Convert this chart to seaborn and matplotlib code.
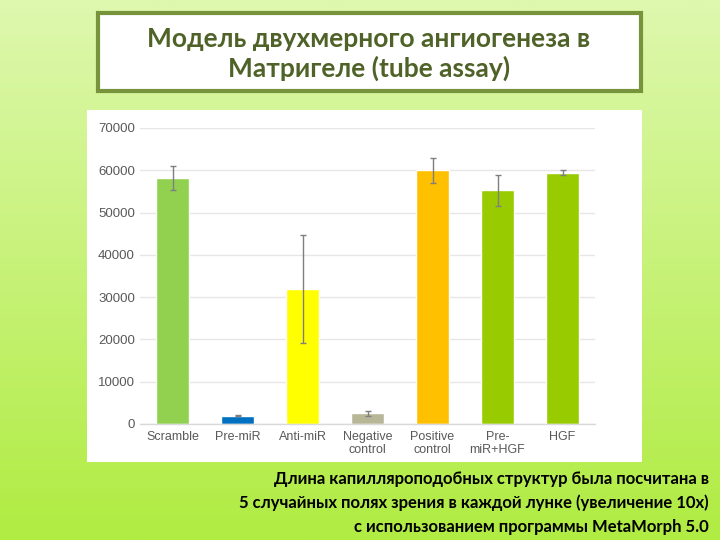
import numpy as np
import pandas as pd
import matplotlib
matplotlib.use("Agg")
import matplotlib.pyplot as plt
from matplotlib.patches import Rectangle
import seaborn as sns

categories = ["Scramble", "Pre-miR", "Anti-miR", "Negative\ncontrol",
              "Positive\ncontrol", "Pre-\nmiR+HGF", "HGF"]
values = [58200, 2000, 32000, 2500, 60000, 55300, 59400]
errors = [2900, 100, 12800, 500, 2900, 3700, 600]
colors = ["#92D050", "#0070C0", "#FFFF00", "#B7B797", "#FFC000", "#99CC00", "#99CC00"]
yticks = [0, 10000, 20000, 30000, 40000, 50000, 60000, 70000]

title = "Модель двухмерного ангиогенеза в\nМатригеле (tube assay)"
caption = ("Длина капилляроподобных структур была посчитана в\n"
           "5 случайных полях зрения в каждой лунке (увеличение 10x)\n"
           "с использованием программы MetaMorph 5.0")

sns.set_theme(style="white")
plt.rcParams['font.family'] = ['Liberation Sans', 'DejaVu Sans']

fig = plt.figure(figsize=(7.2, 5.4), dpi=100)

# background gradient
bg = fig.add_axes([0, 0, 1, 1], zorder=-10)
top = np.array([222, 248, 174]) / 255
bot = np.array([176, 236, 66]) / 255
t = np.linspace(0, 1, 256)[:, None]
grad = top[None, :] * (1 - t) + bot[None, :] * t
img = np.repeat(grad[:, None, :], 4, axis=1)
bg.imshow(img, aspect="auto", extent=[0, 1, 0, 1])
bg.set_axis_off()

# white chart panel
fig.patches.append(Rectangle((87/720, 78/540), 555/720, 352/540, transform=fig.transFigure,
                             facecolor="white", edgecolor="none", zorder=-5))
# title box
fig.patches.append(Rectangle((98/720, 449/540), 543/720, 78/540, transform=fig.transFigure,
                             facecolor="white", edgecolor="#77933C", lw=3, zorder=-5))
fig.text(369/720, 1 - 54/540, title, ha="center", va="center", fontsize=19,
         fontweight="bold", color="#4F6228", family=["Lato", "DejaVu Sans"],
         linespacing=1.22)
fig.text(709/720, 1 - 503/540, caption, ha="right", va="center", fontsize=12,
         fontweight="bold", color="black", family=["Lato", "DejaVu Sans"],
         linespacing=1.6)

ax = fig.add_axes([140/720, 116/540, 455/720, 296/540])
ax.patch.set_alpha(0)
df = pd.DataFrame({"cat": categories, "val": values})
sns.barplot(data=df, x="cat", y="val", hue="cat", palette=colors, legend=False,
            width=0.5, ax=ax, saturation=1)
ax.errorbar(np.arange(len(categories)), values, yerr=errors, fmt="none",
            ecolor="#7F7F7F", elinewidth=1, capsize=2.5, capthick=1)
ax.set_ylim(0, 70000)
ax.set_xlim(-0.5, len(categories) - 0.5)
ax.set_yticks(yticks)
ax.set_yticklabels([str(v) for v in yticks])
ax.yaxis.grid(True, color="#E6E6E6", lw=1)
ax.set_axisbelow(True)
for s in ["top", "right", "left"]:
    ax.spines[s].set_visible(False)
ax.spines["bottom"].set_color("#D9D9D9")
ax.spines["bottom"].set_linewidth(1)
ax.set_xlabel("")
ax.set_ylabel("")
ax.tick_params(axis="y", length=0, pad=3.6, labelsize=9.5, labelcolor="#595959")
ax.tick_params(axis="x", which="major", length=0, pad=5, labelsize=9, labelcolor="#595959")
ax.set_xticks(np.arange(-0.5, len(categories), 1), minor=True)
ax.tick_params(axis="x", which="minor", length=4, color="#D9D9D9", width=1, direction="out")
for lab in ax.get_xticklabels():
    lab.set_linespacing(1.1)

fig.savefig("out.png", dpi=100)
